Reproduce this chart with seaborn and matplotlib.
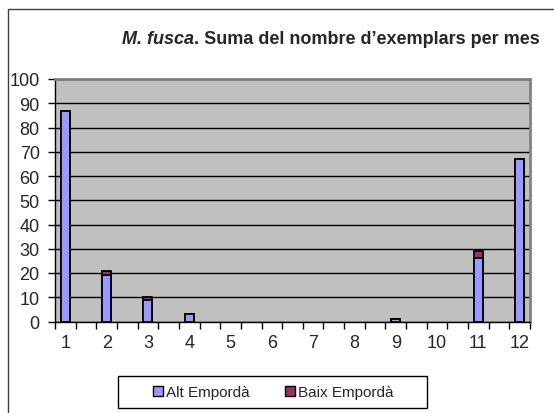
import numpy as np
import pandas as pd
import seaborn as sns
import matplotlib.pyplot as plt
from matplotlib.patches import Rectangle, Patch

months = [1, 2, 3, 4, 9, 11, 12]
alt_emporda = [87, 19, 9, 3, 1, 26, 67]
baix_emporda = [0, 2, 1, 0, 0, 3, 0]
tick_labels = [str(m) for m in range(1, 13)]
series_names = ["Alt Empordà", "Baix Empordà"]

df = pd.DataFrame({"mes": months, "alt": alt_emporda, "baix": baix_emporda})
df["pos"] = (df["mes"] - 1) * 2
df["total"] = df["alt"] + df["baix"]

sns.set_style("white")
plt.rcParams["font.family"] = ["Liberation Sans", "DejaVu Sans"]

W, H = 554, 414
fig = plt.figure(figsize=(W / 100, H / 100), dpi=100)
ax = fig.add_axes([55 / W, 1 - 322.5 / H, 475 / W, 242.5 / H])
ax.set_facecolor("#C0C0C0")

order = list(range(23))
sns.barplot(data=df, x="pos", y="total", order=order, color="#993366", saturation=1,
            width=0.44, edgecolor="black", linewidth=1.3, errorbar=None, ax=ax, zorder=3)
sns.barplot(data=df, x="pos", y="alt", order=order, color="#9999FF", saturation=1,
            width=0.44, edgecolor="black", linewidth=1.3, errorbar=None, ax=ax, zorder=4)

ax.set_xlim(-0.5, 22.5)
ax.set_ylim(0, 100)
ax.set_yticks(np.arange(0, 101, 10))
ax.set_xticks(np.arange(0, 23, 2))
ax.set_xticklabels(tick_labels)
ax.set_xticks(np.arange(-0.5, 23, 1), minor=True)
ax.tick_params(axis="x", which="major", length=0, pad=9, labelsize=13)
ax.tick_params(axis="x", which="minor", length=5, width=1, color="black", direction="out", bottom=True)
ax.tick_params(axis="y", length=5, width=1, color="black", direction="out", left=True, pad=6, labelsize=13)
ax.set_xlabel("")
ax.set_ylabel("")
ax.yaxis.grid(True, color="black", lw=1)
ax.set_axisbelow(True)
for s in ["top", "right"]:
    ax.spines[s].set_color("#808080")
    ax.spines[s].set_linewidth(2)
for s in ["left", "bottom"]:
    ax.spines[s].set_color("black")
    ax.spines[s].set_linewidth(1)

# outer chart frame
fig.patches.append(Rectangle((7.5 / W, -0.1), 1.0, 1.1 - 10 / H, transform=fig.transFigure,
                             fill=False, edgecolor="#404040", lw=1))

# legend
fig.patches.append(Rectangle((118 / W, 1 - 409 / H), 309 / W, 32 / H, transform=fig.transFigure,
                             fill=False, edgecolor="black", lw=1))
handles = [Patch(facecolor="#9999FF", edgecolor="black"), Patch(facecolor="#993366", edgecolor="black")]
fig.legend(handles, series_names, loc="center", bbox_to_anchor=(273 / W, 1 - 393 / H), ncol=2,
           frameon=False, fontsize=11, handlelength=0.65, handleheight=0.65,
           handletextpad=0.2, columnspacing=2.3)

# title with italic species name
t1 = fig.text(122 / W, 1 - 44 / H, "M. fusca", fontsize=13, style="italic", weight="bold", va="baseline")
fig.canvas.draw()
bb = t1.get_window_extent()
fig.text(bb.x1 / fig.bbox.width, 1 - 44 / H, ". Suma del nombre d’exemplars per mes",
         fontsize=13, weight="bold", va="baseline")

plt.savefig("out.png", dpi=100)
